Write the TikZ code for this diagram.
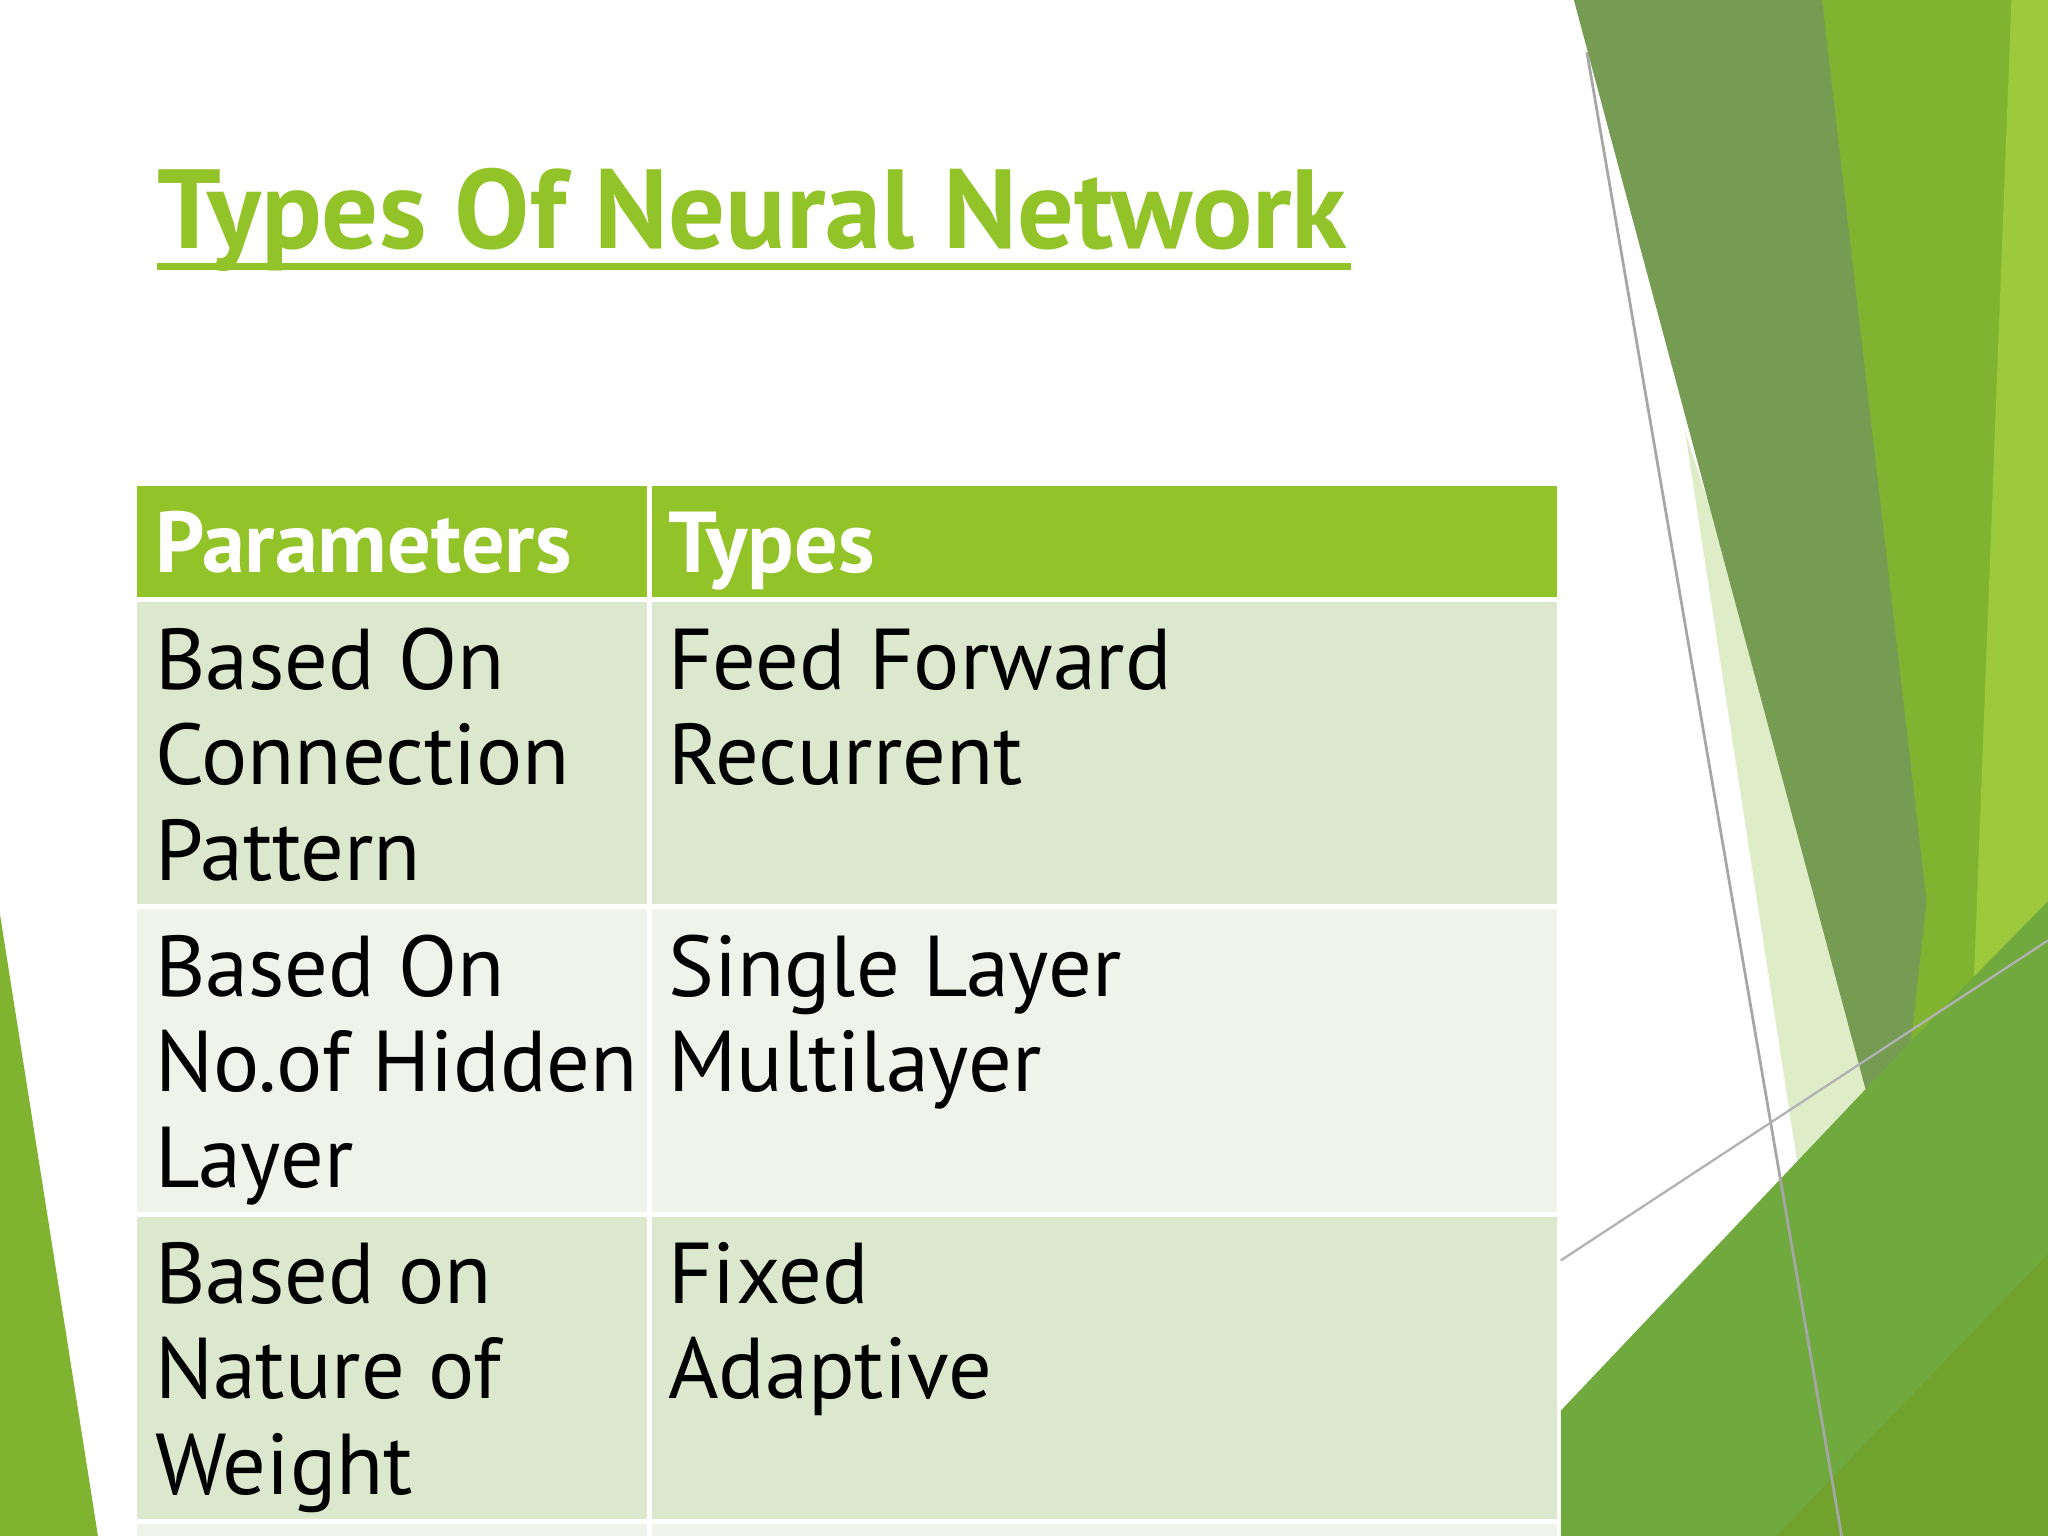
\documentclass[tikz,border=0pt]{standalone}
\usepackage{fontspec}
\setmainfont{PT Sans}
\usetikzlibrary{positioning}
\definecolor{leaf}{RGB}{146,195,40}
\definecolor{moss}{RGB}{118,155,83}
\definecolor{grass}{RGB}{128,180,48}
\definecolor{fern}{RGB}{112,170,62}
\definecolor{pale}{RGB}{222,236,200}
\definecolor{rowA}{RGB}{220,232,205}
\definecolor{rowB}{RGB}{239,243,233}
\tikzset{
  cell/.style={anchor=base west, inner sep=0pt, font=\fontsize{18.8}{20.8}\selectfont, text=black},
  head/.style={cell, text=white, font=\fontsize{18.8}{20.8}\selectfont\bfseries},
}
\begin{document}
\begin{tikzpicture}[x=0.01cm,y=-0.01cm]
    \useasboundingbox (0,0) rectangle (1568,1176);
    % background strips
    \fill[pale] (1290,330) -- (1568,1176) -- (1420,1176) -- cycle;
    \fill[grass] (1395,0) -- (1568,0) -- (1568,1176) -- (1450,915) -- cycle;
    \fill[leaf!90] (1540,0) -- (1568,0) -- (1568,1176) -- (1495,1176) -- cycle;
    \fill[moss] (1205,0) -- (1395,0) -- (1475,690) -- (1450,915) -- cycle;
    \fill[fern] (1195,1080) -- (1470,790) -- (1568,690) -- (1568,1176) -- (1195,1176) -- cycle;
    \fill[leaf!80!black,opacity=0.5] (1360,1176) -- (1568,960) -- (1568,1176) -- cycle;
    \fill[grass] (0,700) -- (75,1176) -- (0,1176) -- cycle;
    \draw[gray!70,line width=0.6pt] (1215,40) -- (1410,1176);
    \draw[gray!60,line width=0.5pt] (1195,965) -- (1568,720);
    % title
    \node[anchor=base west, inner sep=0pt, text=leaf,
          font=\fontsize{24.5}{28}\selectfont\bfseries] (title) at (120,190) {Types Of Neural Network};
    \draw[leaf, line width=1.4pt] (120,204) -- (1034,204);
    % table rows
    \fill[leaf] (105,372) rectangle (495,457);
    \fill[leaf] (499,372) rectangle (1192,457);
    \fill[rowA] (105,461) rectangle (495,692);
    \fill[rowA] (499,461) rectangle (1192,692);
    \fill[rowB] (105,696) rectangle (495,928);
    \fill[rowB] (499,696) rectangle (1192,928);
    \fill[rowA] (105,932) rectangle (495,1163);
    \fill[rowA] (499,932) rectangle (1192,1163);
    \fill[rowB] (105,1167) rectangle (495,1176);
    \fill[rowB] (499,1167) rectangle (1192,1176);
    % texts
    \node[head] (hp) at (118,438) {Parameters};
    \node[head] (ht) at (511,438) {Types};
    \node[cell] (p1a) at (118,528) {Based On};
    \node[cell] (p1b) at (118,601) {Connection};
    \node[cell] (p1c) at (118,674) {Pattern};
    \node[cell] (t1a) at (511,528) {Feed Forward};
    \node[cell] (t1b) at (511,601) {Recurrent};
    \node[cell] (p2a) at (118,763) {Based On};
    \node[cell] (p2b) at (118,836) {No.of Hidden};
    \node[cell] (p2c) at (118,909) {Layer};
    \node[cell] (t2a) at (511,763) {Single Layer};
    \node[cell] (t2b) at (511,836) {Multilayer};
    \node[cell] (p3a) at (118,998) {Based on};
    \node[cell] (p3b) at (118,1071) {Nature of};
    \node[cell] (p3c) at (118,1144) {Weight};
    \node[cell] (t3a) at (511,998) {Fixed};
    \node[cell] (t3b) at (511,1071) {Adaptive};
\end{tikzpicture}
\end{document}
